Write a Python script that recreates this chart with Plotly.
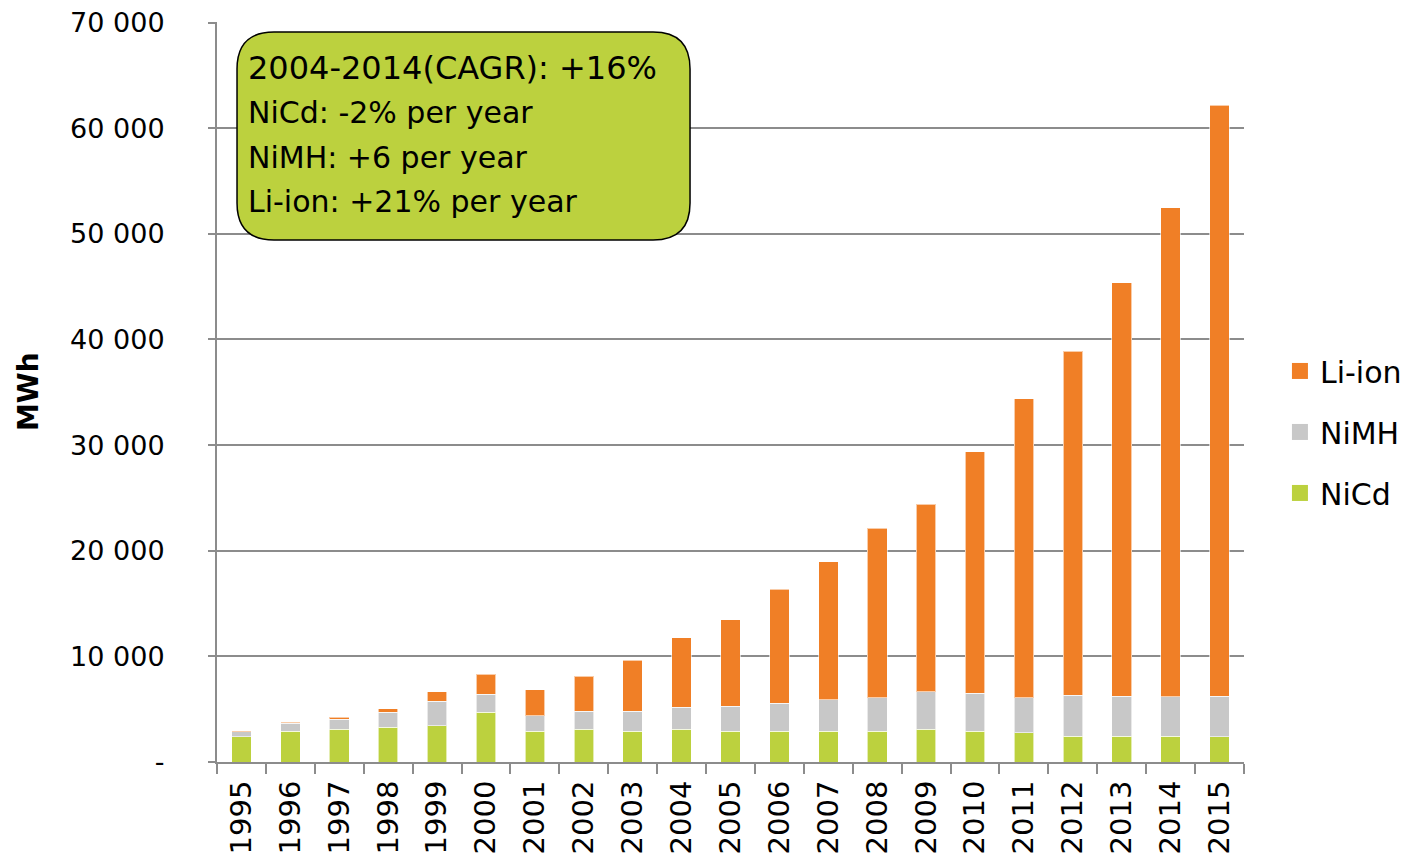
import plotly.graph_objects as go

years = [str(y) for y in range(1995, 2016)]

nicd = [2370, 2930, 3090, 3280, 3410, 4730, 2900, 3090, 2900, 3090, 2930,
        2930, 2900, 2900, 3120, 2930, 2750, 2460, 2430, 2430, 2370]

nimh = [510, 730, 950, 1450, 2330, 1670, 1490, 1710, 1900, 2090, 2340,
        2620, 2970, 3190, 3540, 3570, 3340, 3850, 3810, 3760, 3870]

liion = [70, 100, 190, 320, 920, 1900, 2460, 3310, 4850, 6590, 8200,
         10820, 13090, 16050, 17750, 22870, 28290, 32550, 39110, 46260, 55910]

y_tickvals = [0, 10000, 20000, 30000, 40000, 50000, 60000, 70000]
y_ticktext = ["-", "10 000", "20 000", "30 000", "40 000", "50 000", "60 000", "70 000"]

box_lines = [
    "NiCd: -2% per year",
    "NiMH: +6 per year",
    "Li-ion: +21% per year",
]

FONT = "DejaVu Sans"
GRID = "#8c8c8c"

series = [
    ("NiCd", nicd, "#bcd13e"),
    ("NiMH", nimh, "#c8c8c8"),
    ("Li-ion", liion, "#f07f26"),
]

fig = go.Figure()

for name, values, color in series:
    fig.add_trace(
        go.Bar(
            x=years,
            y=values,
            name=name,
            showlegend=False,
            marker=dict(color=color, line=dict(color="rgba(255,255,255,0.6)", width=1)),
        )
    )

# legend-only entries (top to bottom) so the swatches can be bigger squares
for name, values, color in reversed(series):
    fig.add_trace(
        go.Scatter(
            x=[None],
            y=[None],
            mode="markers",
            name=name,
            legendgroup=name,
            marker=dict(symbol="square", size=20, color=color),
        )
    )

# rounded box behind the growth note (paper coords)
x0, x1, y0, y1 = 0.0195, 0.4606, 0.7054, 0.9865
rx, ry = 0.036, 0.05
path = (
    f"M {x0 + rx},{y1} L {x1 - rx},{y1} Q {x1},{y1} {x1},{y1 - ry} "
    f"L {x1},{y0 + ry} Q {x1},{y0} {x1 - rx},{y0} "
    f"L {x0 + rx},{y0} Q {x0},{y0} {x0},{y0 + ry} "
    f"L {x0},{y1 - ry} Q {x0},{y1} {x0 + rx},{y1} Z"
)
fig.add_shape(
    type="path",
    xref="paper",
    yref="paper",
    path=path,
    fillcolor="#bcd13e",
    line=dict(color="black", width=1.5),
    layer="above",
)

fig.add_annotation(
    x=0.028, y=0.938, xref="paper", yref="paper",
    text="2004-2014(CAGR): +16%",
    showarrow=False, xanchor="left", yanchor="middle",
    font=dict(family=FONT, size=32, color="black"),
)
for i, line in enumerate(box_lines):
    fig.add_annotation(
        x=0.028, y=0.878 - i * 0.0605, xref="paper", yref="paper",
        text=line,
        showarrow=False, xanchor="left", yanchor="middle",
        font=dict(family=FONT, size=30, color="black"),
    )

# y axis title
fig.add_annotation(
    x=-0.184, y=0.5, xref="paper", yref="paper",
    text="<b>MWh</b>", textangle=-90,
    showarrow=False, xanchor="center", yanchor="middle",
    font=dict(family=FONT, size=28, color="black"),
)

fig.update_layout(
    barmode="stack",
    bargap=0.6,
    width=1421,
    height=860,
    margin=dict(l=209, r=185, t=14, b=106),
    plot_bgcolor="white",
    paper_bgcolor="white",
    font=dict(family=FONT, color="black"),
    legend=dict(
        x=1.035, y=0.446, xanchor="left", yanchor="middle",
        traceorder="grouped",
        tracegroupgap=19,
        font=dict(family=FONT, size=30),
        bgcolor="rgba(0,0,0,0)",
    ),
    xaxis=dict(
        type="category",
        tickangle=-90,
        tickfont=dict(family=FONT, size=29),
        showline=True, linecolor=GRID, linewidth=2,
        ticks="outside", tickson="boundaries", ticklen=10,
        tickcolor=GRID, tickwidth=2,
        showgrid=False,
        automargin=False,
        ticklabelstandoff=5,
    ),
    yaxis=dict(
        range=[0, 70050],
        tickvals=y_tickvals,
        ticktext=y_ticktext,
        tickfont=dict(family=FONT, size=27),
        showline=True, linecolor=GRID, linewidth=2,
        ticks="outside", ticklen=7, tickcolor=GRID, tickwidth=2,
        showgrid=True, gridcolor=GRID, gridwidth=2,
        zeroline=False,
        automargin=False,
        ticklabelstandoff=38,
        ticklabeloverflow="allow",
    ),
)

fig.write_html("out.html")
